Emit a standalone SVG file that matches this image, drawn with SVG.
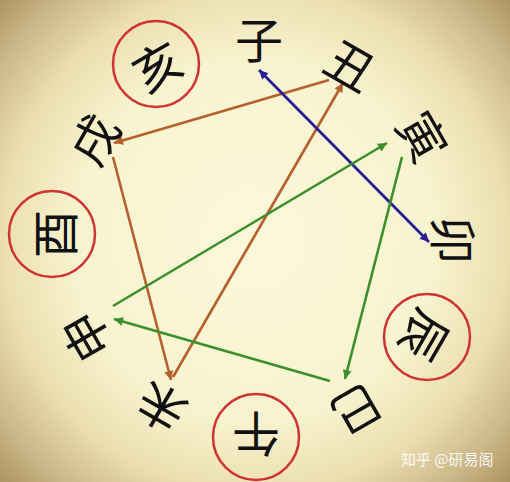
<svg xmlns="http://www.w3.org/2000/svg" width="510" height="482" viewBox="0 0 510 482">
<defs>
<radialGradient id="bg" cx="255" cy="240" r="360" gradientUnits="userSpaceOnUse">
<stop offset="0" stop-color="#fbf8da"/>
<stop offset="0.5" stop-color="#f8f3cf"/>
<stop offset="0.7" stop-color="#ebdfb0"/>
<stop offset="0.85" stop-color="#cdb98a"/>
<stop offset="1" stop-color="#a68d5c"/>
</radialGradient>
<marker id="ab" viewBox="0 0 10 10" refX="10" refY="5" markerWidth="11" markerHeight="9" markerUnits="userSpaceOnUse" orient="auto-start-reverse"><path d="M0,0 L10,5 L0,10 z" fill="#b5602f"/></marker>
<marker id="ag" viewBox="0 0 10 10" refX="10" refY="5" markerWidth="11" markerHeight="9" markerUnits="userSpaceOnUse" orient="auto-start-reverse"><path d="M0,0 L10,5 L0,10 z" fill="#3d8e2c"/></marker>
<marker id="au" viewBox="0 0 10 10" refX="10" refY="5" markerWidth="11" markerHeight="9" markerUnits="userSpaceOnUse" orient="auto-start-reverse"><path d="M0,0 L10,5 L0,10 z" fill="#2a1e98"/></marker>
</defs>
<style>
.ch{font-family:"Noto Sans CJK SC","Noto Sans CJK JP",sans-serif;font-size:48px;fill:#111;text-anchor:middle;dominant-baseline:central}
.ring{fill:none;stroke:#cf3434;stroke-width:2.5}
.br{stroke:#b5602f;stroke-width:2.6;fill:none}
.gr{stroke:#3d8e2c;stroke-width:2.6;fill:none}
.bl{stroke:#2a1e98;stroke-width:2.8;fill:none}
.wm{font-family:"Noto Sans CJK SC",sans-serif;font-size:15px;fill:#fff;opacity:0.9}
</style>
<rect width="510" height="482" fill="url(#bg)"/>
<g id="connectors">
<line class="br" x1="329" y1="80" x2="114" y2="143" marker-end="url(#ab)"/>
<line class="br" x1="113" y1="157" x2="171" y2="380" marker-end="url(#ab)"/>
<line class="br" x1="173" y1="377" x2="343" y2="83" marker-end="url(#ab)"/>
<line class="bl" x1="259" y1="70" x2="429" y2="242" marker-start="url(#au)" marker-end="url(#au)"/>
<line class="gr" x1="402" y1="157" x2="345" y2="379" marker-end="url(#ag)"/>
<line class="gr" x1="330" y1="381" x2="114" y2="319" marker-end="url(#ag)"/>
<line class="gr" x1="113" y1="306" x2="387" y2="143" marker-end="url(#ag)"/>
</g>
<g id="zi"><text class="ch" transform="translate(259,37)">子</text></g>
<g id="chou"><text class="ch" transform="translate(352,63) rotate(30)">丑</text></g>
<g id="yin"><text class="ch" transform="translate(425,135) rotate(60)">寅</text></g>
<g id="mao"><text class="ch" transform="translate(456,240) rotate(90)">卯</text></g>
<g id="chen"><circle class="ring" cx="427" cy="337" r="43"/><text class="ch" transform="translate(427,337) rotate(120)">辰</text></g>
<g id="si"><text class="ch" transform="translate(358,412) rotate(150)">巳</text></g>
<g id="wu"><circle class="ring" cx="256" cy="437" r="43"/><text class="ch" transform="translate(256,437) rotate(180)">午</text></g>
<g id="wei"><text class="ch" transform="translate(160,410) rotate(210)">未</text></g>
<g id="shen"><text class="ch" transform="translate(84,338) rotate(240)">申</text></g>
<g id="you"><circle class="ring" cx="52" cy="234" r="43"/><text class="ch" transform="translate(52,234) rotate(270)">酉</text></g>
<g id="xu"><text class="ch" transform="translate(92,138) rotate(300)">戌</text></g>
<g id="hai"><circle class="ring" cx="156" cy="64" r="43"/><text class="ch" transform="translate(156,64) rotate(330)">亥</text></g>
<text class="wm" x="401" y="465">知乎 @研易阁</text>
</svg>
